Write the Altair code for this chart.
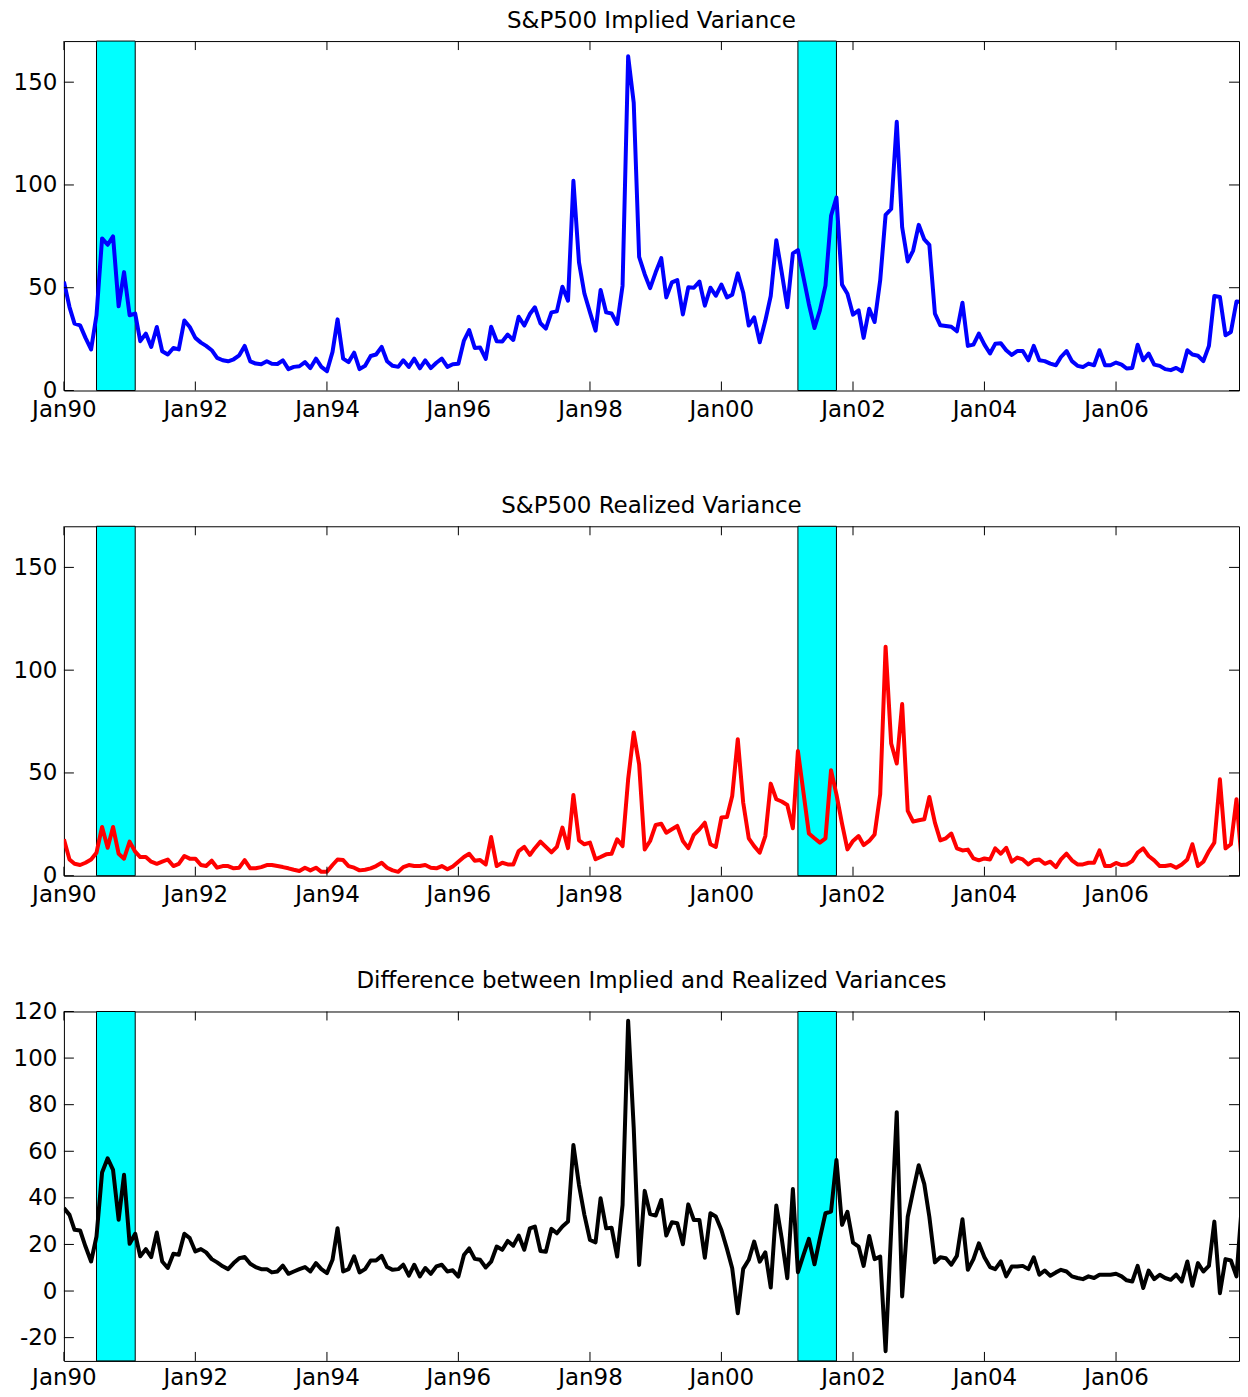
import altair as alt
import pandas as pd

# monthly values, Jan 1990 .. Dec 2007 (one row per year)
implied = [
    53, 40.6, 32.5, 31.7, 25.6, 20, 36.6, 74, 70.9, 75, 41, 57.6,
    36.6, 37.4, 24, 27.7, 21.2, 30.9, 19.1, 17.5, 20.7, 20, 34.1, 30.9,
    25.6, 23.3, 21.7, 19.6, 15.9, 14.7, 14.2, 15.2, 17.1, 21.7, 14.2, 13.1,
    12.8, 14.2, 13, 12.9, 14.7, 10.4, 11.5, 11.8, 13.8, 10.9, 15.5, 11.5,
    9.4, 18.8, 34.6, 15.5, 13.8, 18.4, 10.4, 12, 16.8, 17.5, 21.2, 14.2,
    12, 11.5, 14.7, 11.5, 15.5, 10.8, 14.7, 10.9, 13.5, 15.5, 11.5, 12.8,
    13, 24.3, 29.4, 20.7, 20.9, 15.4, 31, 24, 23.8, 27.2, 24.6, 35.9,
    31.6, 37.2, 40.5, 32.7, 30.1, 38, 38.5, 50.5, 43.7, 102, 62.3, 47.2,
    38, 29.1, 48.9, 38, 37.5, 32.4, 51, 162.6, 140, 65, 56.6, 49.8,
    57.5, 64.4, 45.3, 52.6, 53.7, 37, 50.2, 50, 53, 41.3, 50, 46.1,
    51.5, 45.3, 46.6, 57, 47.7, 31.6, 35.6, 23.5, 34, 46, 73.1, 57.5,
    40.5, 66.7, 68.3, 55, 42, 30.4, 39, 51, 85, 93.9, 51.5, 47.1,
    36.9, 39, 25.6, 39.8, 33.3, 53.6, 85.4, 88.3, 130.7, 79.4, 62.8, 68.1,
    80.6, 73.5, 70.9, 37.4, 31.7, 31.4, 31, 28.8, 42.7, 21.7, 22.3, 27.7,
    22.3, 18, 22.7, 23, 19.6, 17.3, 19.2, 19.2, 14.7, 21.7, 14.7, 14.3,
    13.1, 12.3, 16.3, 19.2, 14.3, 12, 11.4, 13.1, 12.3, 19.6, 12.3, 12.3,
    13.6, 12.6, 10.7, 11, 22.3, 14.7, 18, 12.6, 12, 10.4, 9.9, 11,
    9.4, 19.6, 17.5, 16.9, 14.3, 21.7, 46, 45.5, 26.9, 28.5, 43.3, 43,
]
realized = [
    17.7, 7.9, 5.8, 5.2, 6.3, 7.9, 11.2, 23.7, 13.6, 23.7, 10.7, 8.3,
    16.6, 11.7, 9.1, 9.1, 6.8, 5.8, 6.8, 7.9, 4.7, 5.8, 9.6, 8.3,
    8.3, 5.2, 4.7, 7.3, 3.9, 4.7, 4.7, 3.6, 3.9, 7.6, 3.6, 3.6,
    4.2, 5.2, 5.2, 4.7, 4.2, 3.6, 2.9, 2.3, 3.9, 2.6, 3.9, 1.9,
    1.9, 5.2, 7.9, 7.6, 4.7, 3.9, 2.6, 2.9, 3.6, 4.7, 6.3, 3.9,
    2.6, 1.9, 4.2, 5.2, 4.7, 4.7, 5.2, 3.9, 3.6, 4.7, 3.1, 4.5,
    6.8, 9.1, 10.7, 7.3, 7.6, 5.5, 18.8, 4.7, 6.3, 5.5, 5.5, 12,
    14, 10.1, 13.4, 16.6, 14, 11.4, 14, 23.4, 13.4, 39.3, 17.2, 15.3,
    16.1, 8, 9.1, 10.4, 10.7, 17.7, 14.4, 46.9, 69.7, 54.2, 12.8, 16.9,
    24.7, 25.3, 20.9, 22.6, 24.2, 16.9, 13.4, 19.9, 22.6, 25.8, 15.3, 14,
    28.3, 28.6, 38.8, 66.4, 35.6, 18.2, 14.4, 11.2, 19.3, 44.8, 37.2, 36.1,
    34.4, 23.1, 60.7, 40.4, 20.5, 18.2, 16.1, 18.2, 51.3, 39.6, 25.3, 12.8,
    16.9, 19.3, 14.9, 16.9, 20.1, 39.6, 111.4, 64.3, 54.6, 83.5, 31.5, 26.3,
    27, 27.5, 38.3, 25.8, 17.2, 18.2, 20.5, 13.3, 12.3, 12.7, 8.4, 7.5,
    8.4, 7.9, 13.3, 10.7, 13.6, 6.8, 8.8, 7.9, 5.5, 7.5, 7.9, 5.8,
    6.8, 4.2, 7.9, 10.7, 7.5, 5.5, 5.5, 6.3, 6.3, 12.3, 4.7, 4.7,
    6.2, 5.2, 5.5, 7.1, 11.2, 13.3, 9.6, 7.5, 4.7, 4.7, 5.2, 3.9,
    5.5, 7.9, 15.3, 4.7, 6.8, 12, 16.1, 46.9, 13.3, 15.3, 37.2, 6,
]
difference = [
    35.6, 32.7, 26.3, 26, 19.1, 12.7, 23.4, 50.9, 57, 52, 30.6, 49.9,
    20.3, 24.6, 14.9, 18, 14.6, 25.1, 12.7, 9.9, 16, 15.6, 24.6, 22.7,
    17, 18, 16.6, 13.7, 12.3, 10.6, 9.4, 12, 14.1, 14.6, 11.7, 10.3,
    9.4, 9.4, 8, 8.4, 10.9, 7.4, 8.4, 9.4, 10.3, 8.4, 12, 9.4,
    7.7, 13.4, 27, 8.4, 9.4, 14.9, 8, 9.4, 13.1, 13.1, 15.1, 10.3,
    9.1, 9.4, 11.3, 6.6, 11.3, 6.3, 9.9, 7.4, 10.6, 11.3, 8.4, 8.9,
    6.2, 15.5, 18.3, 13.8, 13.4, 10.1, 12.6, 19.1, 17.7, 21.5, 19.5, 23.8,
    17.7, 26.9, 27.7, 17.2, 16.9, 26.7, 24.8, 27.7, 29.8, 62.7, 45.5, 32.7,
    21.9, 20.9, 39.8, 26.9, 27.2, 14.8, 36.9, 116, 70, 11.2, 43, 33,
    32.4, 39.1, 23.8, 29.5, 29.1, 20.1, 37.2, 30.5, 30.5, 14.3, 33.4, 32,
    26.2, 18.1, 9.8, -9.5, 9.5, 13.4, 21.2, 12.6, 16.6, 1.5, 36.7, 22.6,
    5.5, 43.8, 8.1, 15.5, 22.4, 11.5, 22.6, 33.4, 34.1, 56.3, 28.4, 34,
    20.8, 19.1, 10.8, 23.6, 13.7, 14.8, -25.8, 26, 76.8, -2.3, 31.9, 43,
    54, 45.9, 31.9, 12.3, 14.5, 14.1, 11.3, 15.1, 30.8, 9.1, 13.7, 20.5,
    14.5, 10.3, 9.4, 12.7, 6.3, 10.5, 10.5, 10.8, 9.4, 14.5, 7, 8.8,
    6.6, 8, 9.1, 8.4, 6.3, 5.6, 5.1, 6.3, 5.6, 7, 7, 7,
    7.4, 6.3, 4.6, 4.1, 10.8, 1.3, 8.8, 5.1, 7, 5.6, 4.8, 7,
    4.1, 12.7, 2.3, 12, 8.4, 10.8, 29.8, -0.9, 13.7, 13.1, 6.3, 37,
]
months = pd.date_range("1990-01-01", periods=len(implied), freq="MS")

# recession shading
band_start = ["1990-07-01", "2001-03-01"]
band_end = ["1991-02-01", "2001-10-01"]

tick_years = list(range(1990, 2008, 2))
var_ticks = [0, 50, 100, 150]
diff_ticks = [-20, 0, 20, 40, 60, 80, 100, 120]

W, H = 1177, 350
FONT = "DejaVu Sans"
FS = 23

x_scale = alt.Scale(domain=[alt.DateTime(year=1990, month=1, date=1),
                            alt.DateTime(year=2007, month=11, date=15)])


def x_axis(pad):
    return alt.Axis(values=[alt.DateTime(year=y, month=1, date=1) for y in tick_years],
                    format="%b%y", tickSize=0, domain=False, grid=False,
                    labelPadding=pad, labelFlush=False, labelOverlap=False)


def y_axis(ticks):
    return alt.Axis(values=ticks, tickSize=0, domain=False, grid=False, labelPadding=7,
                    labelExpr="datum.value < 0 ? '-' + (-datum.value) : '' + datum.value")


def panel(values, color, title, y_domain, y_ticks, label_pad=8):
    df = pd.DataFrame({"date": months, "value": values})
    bands = pd.DataFrame({"start": pd.to_datetime(band_start), "end": pd.to_datetime(band_end)})
    xt = pd.DataFrame({"date": pd.to_datetime([f"{y}-01-01" for y in tick_years])})
    yt = pd.DataFrame({"value": y_ticks})
    y_scale = alt.Scale(domain=y_domain, nice=False, zero=False)
    xax = x_axis(label_pad)
    xenc = alt.X("date:T", scale=x_scale, axis=xax, title=None)
    yenc = alt.Y("value:Q", scale=y_scale, axis=y_axis(y_ticks), title=None)

    shade = alt.Chart(bands).mark_rect(color="#00ffff", stroke="black", strokeWidth=1).encode(
        x=alt.X("start:T", scale=x_scale, axis=xax, title=None),
        x2="end:T",
        y=alt.value(0), y2=alt.value(H),
    )
    line = alt.Chart(df).mark_line(color=color, strokeWidth=4, strokeJoin="round", clip=True).encode(
        x=xenc, y=yenc,
    )
    # inward ticks, MATLAB style
    tick = dict(color="black", strokeWidth=1)
    xb = alt.Chart(xt).mark_rule(**tick).encode(x=xenc, y=alt.value(H - 9), y2=alt.value(H))
    xtp = alt.Chart(xt).mark_rule(**tick).encode(x=xenc, y=alt.value(0), y2=alt.value(9))
    yl = alt.Chart(yt).mark_rule(**tick).encode(y=yenc, x=alt.value(0), x2=alt.value(10))
    yr = alt.Chart(yt).mark_rule(**tick).encode(y=yenc, x=alt.value(W - 10), x2=alt.value(W))

    return alt.layer(shade, line, xb, xtp, yl, yr).properties(
        width=W, height=H,
        title=alt.TitleParams(title, font=FONT, fontSize=FS, fontWeight="normal",
                              color="black", offset=8, anchor="middle"),
    )


p1 = panel(implied, "#0000ff", "S&P500 Implied Variance", [0, 170], var_ticks)
p2 = panel(realized, "#ff0000", "S&P500 Realized Variance", [0, 170], var_ticks)
p3 = panel(difference, "#000000", "Difference between Implied and Realized Variances",
           [-30, 120], diff_ticks, label_pad=6)

chart = alt.vconcat(p1, p2, p3, spacing=136).properties(
    bounds="flush",
    padding={"left": 4, "top": 0, "right": 0, "bottom": 0},
    background="white",
).configure_view(
    stroke="black", strokeWidth=1,
).configure_axis(
    labelFont=FONT, labelFontSize=FS, labelColor="black",
)

chart.save("out.html", embed_options={"renderer": "svg", "actions": False})
